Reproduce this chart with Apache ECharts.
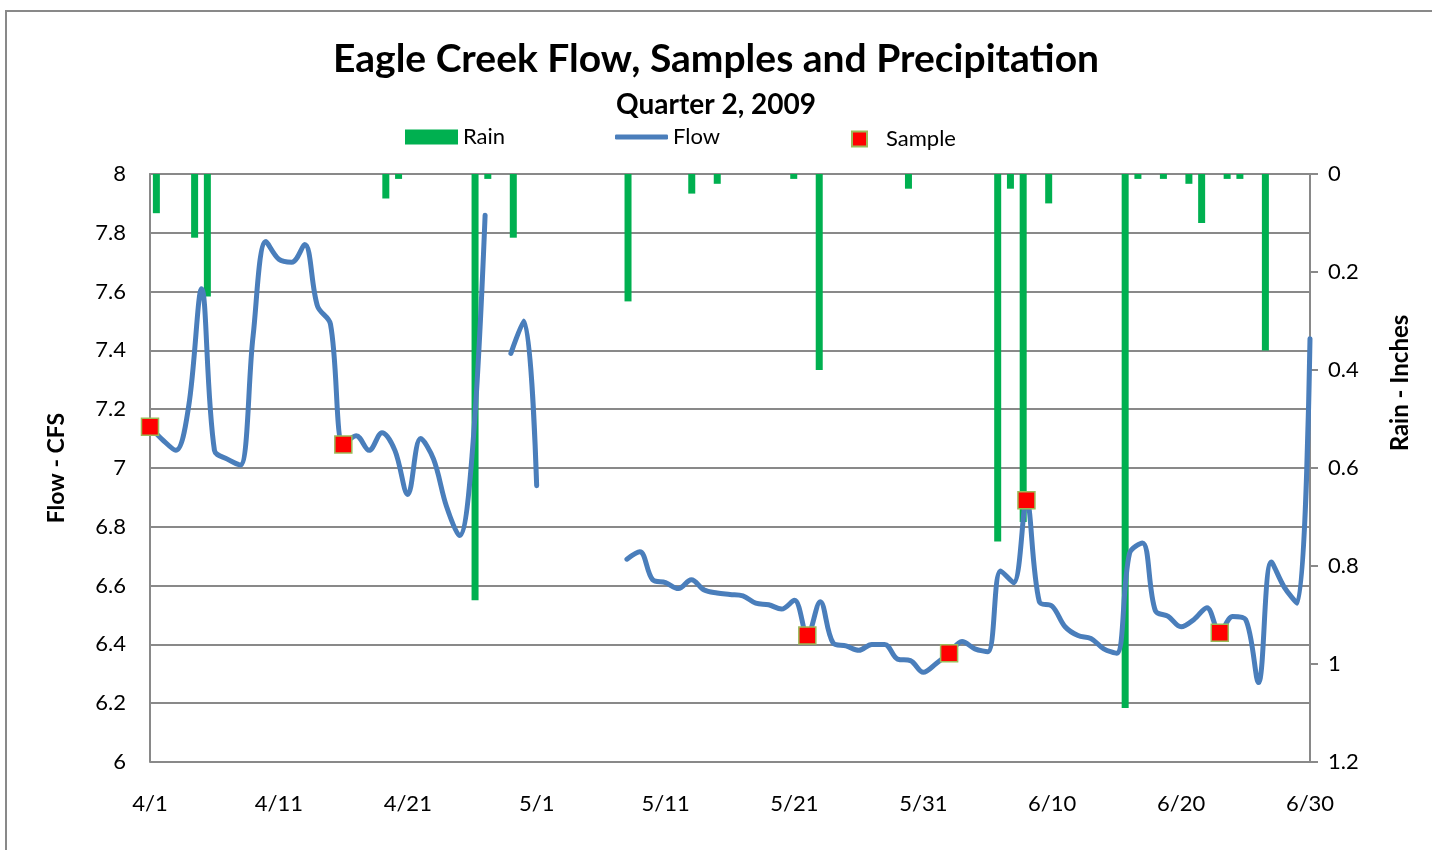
<!DOCTYPE html>
<html><head><meta charset="utf-8">
<script src="https://cdn.jsdelivr.net/npm/echarts@6/dist/echarts.min.js"></script>
<style>html,body{margin:0;padding:0;background:#fff}#c{width:1432px;height:850px}</style>
</head><body><div id="c"></div>
<script>
// x tick labels (every 10 days, 4/1 .. 6/30)
const xTickLabels = ['4/1','4/11','4/21','5/1','5/11','5/21','5/31','6/10','6/20','6/30'];

// daily flow (CFS), day 0 = 4/1 ... day 90 = 6/30; null = missing
const flow = [
  7.14, 7.095, 7.06, 7.21, 7.61, 7.06, 7.03, 7.01, 7.45, 7.77,
  7.71, 7.70, 7.76, 7.55, 7.49, 7.08, 7.11, 7.06, 7.12, 7.06,
  6.91, 7.10, 7.03, 6.87, 6.77, 7.05, 7.86, null, 7.39, 7.50,
  6.94, null, null, null, null, null, null, 6.69, 6.715, 6.62,
  6.61, 6.59, 6.62, 6.585, 6.575, 6.57, 6.565, 6.54, 6.535, 6.52,
  6.55, 6.43, 6.545, 6.405, 6.395, 6.38, 6.40, 6.40, 6.35, 6.345,
  6.305, 6.335, 6.37, 6.41, 6.385, 6.375, 6.65, 6.61, 6.89, 6.545,
  6.53, 6.46, 6.43, 6.42, 6.385, 6.37, 6.71, 6.745, 6.515, 6.495,
  6.46, 6.485, 6.525, 6.44, 6.495, 6.485, 6.27, 6.68, 6.595, 6.54,
  7.44
];

// daily rain (inches), day 0 = 4/1 ... day 90 = 6/30
const rain = [
  0.08, 0, 0, 0.13, 0.25, 0, 0, 0, 0, 0,
  0, 0, 0, 0, 0, 0, 0, 0, 0.05, 0.01,
  0, 0, 0, 0, 0, 0.87, 0.01, 0, 0.13, 0,
  0, 0, 0, 0, 0, 0, 0, 0.26, 0, 0,
  0, 0, 0.04, 0, 0.02, 0, 0, 0, 0, 0,
  0.01, 0, 0.40, 0, 0, 0, 0, 0, 0, 0.03,
  0, 0, 0, 0, 0, 0, 0.75, 0.03, 0.71, 0,
  0.06, 0, 0, 0, 0, 0, 1.09, 0.01, 0, 0.01,
  0, 0.02, 0.10, 0, 0.01, 0.01, 0, 0.36, 0, 0,
  0
];

// samples
const sampleDays = [0, 15, 51, 62, 68, 83];
const sampleValues = [7.14, 7.08, 6.43, 6.37, 6.89, 6.44];

// day categories for rain bars
const dayCategories = rain.map((_, i) => {
  const d = new Date(2009, 3, 1 + i);
  return (d.getMonth() + 1) + '/' + d.getDate();
});

const FONT = 'Lato';
const GRAY = '#898989';
const BLUE = '#4A7EBB';

const chart = echarts.init(document.getElementById('c'), null, {renderer: 'canvas'});
chart.setOption({
  animation: false,
  backgroundColor: '#fff',
  textStyle: {fontFamily: FONT},
  title: [
    {text: 'Eagle Creek Flow, Samples and Precipitation', left: 'center', top: 35,
     textStyle: {fontFamily: FONT, fontWeight: 'bold', fontSize: 39, color: '#000'}},
    {text: 'Quarter 2, 2009', left: 'center', top: 86,
     textStyle: {fontFamily: FONT, fontWeight: 'bold', fontSize: 28, color: '#000'}}
  ],
  legend: [
    {data: [{name: 'Rain', icon: 'rect'}], left: 400, top: 121, itemWidth: 53, itemHeight: 15,
     textStyle: {fontFamily: FONT, fontSize: 22, color: '#000'}},
    {data: [{name: 'Flow', icon: 'roundRect'}], left: 610, top: 121, itemWidth: 53, itemHeight: 5,
     textStyle: {fontFamily: FONT, fontSize: 22, color: '#000'}},
    {data: [{name: 'Sample', icon: 'rect'}], left: 846, top: 123, itemWidth: 15, itemHeight: 15,
     textStyle: {fontFamily: FONT, fontSize: 22, color: '#000', padding: [0, 0, 0, 14]}}
  ],
  grid: {left: 150, right: 122, top: 174, bottom: 88, containLabel: false},
  xAxis: [
    {type: 'value', min: 0, max: 90, interval: 10,
     axisLine: {show: true, lineStyle: {color: GRAY, width: 2}},
     axisTick: {show: false}, splitLine: {show: false},
     axisLabel: {margin: 31, fontSize: 22, color: '#000', fontFamily: FONT,
                 formatter: v => xTickLabels[Math.round(v / 10)]}},
    {type: 'category', data: dayCategories, boundaryGap: true, show: false, position: 'bottom'}
  ],
  yAxis: [
    {type: 'value', min: 6, max: 8, interval: 0.2, position: 'left',
     axisLine: {show: true, lineStyle: {color: GRAY, width: 2}},
     axisTick: {show: false},
     splitLine: {show: true, lineStyle: {color: GRAY, width: 2}},
     axisLabel: {margin: 24, fontSize: 22, color: '#000', fontFamily: FONT,
                 formatter: v => String(Math.round(v * 10) / 10)}},
    {type: 'value', min: 0, max: 1.2, interval: 0.2, inverse: true, position: 'right',
     axisLine: {show: true, lineStyle: {color: GRAY, width: 2}},
     axisTick: {show: true, inside: false, length: 8, lineStyle: {color: GRAY, width: 2}},
     splitLine: {show: false},
     axisLabel: {margin: 18, fontSize: 22, color: '#000', fontFamily: FONT,
                 formatter: v => String(Math.round(v * 10) / 10)}}
  ],
  graphic: [
    {type: 'rect', shape: {x: 6, y: 11, width: 1500, height: 900}, silent: true, z: -10,
     style: {fill: 'none', stroke: GRAY, lineWidth: 2}},
    {type: 'text', x: 57, y: 468, rotation: Math.PI / 2, silent: true,
     style: {text: 'Flow - CFS', fontFamily: FONT, fontWeight: 'bold', fontSize: 23, fill: '#000',
             align: 'center', verticalAlign: 'middle'}},
    {type: 'text', x: 1400, y: 383, rotation: Math.PI / 2, silent: true,
     style: {text: 'Rain - Inches', fontFamily: FONT, fontWeight: 'bold', fontSize: 24, fill: '#000',
             align: 'center', verticalAlign: 'middle'}}
  ],
  series: [
    {name: 'Rain', type: 'bar', xAxisIndex: 1, yAxisIndex: 1, data: rain, barWidth: 7,
     itemStyle: {color: '#00B050'}, z: 2},
    {name: 'Flow', type: 'line', xAxisIndex: 0, yAxisIndex: 0, smooth: 0.35,
     data: flow.map((v, i) => [i, v == null ? '-' : v]),
     connectNulls: false, showSymbol: false, symbol: 'none',
     lineStyle: {color: BLUE, width: 5, cap: 'round', join: 'round'},
     itemStyle: {color: BLUE}, z: 3},
    {name: 'Sample', type: 'scatter', xAxisIndex: 0, yAxisIndex: 0, symbol: 'rect', symbolSize: 17,
     data: sampleDays.map((d, i) => [d, sampleValues[i]]),
     itemStyle: {color: '#FF0000', borderColor: '#9BBB59', borderWidth: 1.5, opacity: 1}, z: 4}
  ]
});
</script></body></html>
